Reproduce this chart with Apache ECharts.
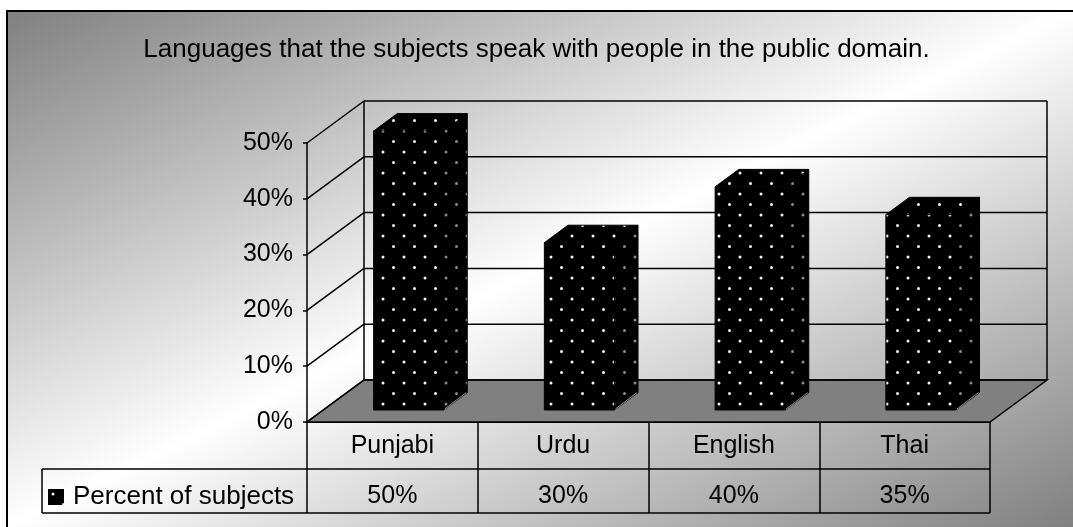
<!DOCTYPE html>
<html>
<head>
<meta charset="utf-8">
<script src="https://cdn.jsdelivr.net/npm/echarts@6/dist/echarts.min.js"></script>
<style>
html,body{margin:0;padding:0;background:#fff;}
#chart{width:1073px;height:527px;}
</style>
</head>
<body>
<div id="chart"></div>
<script>
// ---- data ----
const titleText = 'Languages that the subjects speak with people in the public domain.';
const categories = ['Punjabi', 'Urdu', 'English', 'Thai'];
const values = [0.50, 0.30, 0.40, 0.35];
const seriesName = 'Percent of subjects';
const yTicks = [0, 0.1, 0.2, 0.3, 0.4, 0.5];

// ---- style / layout constants ----
const FONT = '"Liberation Sans", Arial, sans-serif';
const DX = 57, DY = -42;          // depth of the 3D box
const F1 = 0.285, F2 = 0.70;      // bar depth span (fraction of box depth)
const BAR_RATIO = 0.41;

function makePattern(dot) {
  const c = document.createElement('canvas');
  c.width = 21; c.height = 21;
  const g = c.getContext('2d');
  g.fillStyle = '#000'; g.fillRect(0, 0, 21, 21);
  g.fillStyle = dot;
  g.beginPath(); g.arc(5, 5, 1.5, 0, Math.PI * 2); g.fill();
  g.beginPath(); g.arc(15.5, 15.5, 1.5, 0, Math.PI * 2); g.fill();
  return c;
}
const frontPat = { image: makePattern('#f4f4f4'), repeat: 'repeat' };
const sidePat = { image: makePattern('#8a8a8a'), repeat: 'repeat' };

const chart = echarts.init(document.getElementById('chart'), null, { renderer: 'canvas' });

const fmtPct = v => Math.round(v * 100) + '%';

const option = {
  animation: false,
  backgroundColor: '#fff',
  title: {
    text: titleText,
    left: 'center',
    top: 32,
    textStyle: { fontFamily: FONT, fontSize: 26, fontWeight: 'normal', color: '#000' }
  },
  graphic: [{
    type: 'rect',
    z: -10,
    silent: true,
    shape: { x: 7, y: 11, width: 1100, height: 600 },
    style: {
      fill: {
        type: 'linear', global: true, x: 338, y: -149, x2: 742, y2: 687,
        colorStops: [
          { offset: 0, color: '#808080' },
          { offset: 0.5, color: '#ffffff' },
          { offset: 1, color: '#808080' }
        ]
      },
      stroke: '#000', lineWidth: 2
    }
  }],
  legend: {
    data: [{ name: seriesName, icon: 'rect' }],
    left: 48, top: 484, padding: 0,
    itemWidth: 16, itemHeight: 16,
    selectedMode: false,
    textStyle: { fontFamily: FONT, fontSize: 26, color: '#000', lineHeight: 26, padding: [0, 0, 0, 4] }
  },
  grid: { left: 307, right: 83, top: 143, bottom: 105, containLabel: false },
  xAxis: {
    type: 'category',
    data: categories,
    axisLine: { show: true, lineStyle: { color: '#000', width: 2 } },
    axisTick: { show: true, length: 91, lineStyle: { color: '#000', width: 1.5 } },
    axisLabel: {
      margin: 24, verticalAlign: 'middle', lineHeight: 25,
      fontFamily: FONT, fontSize: 25, color: '#000'
    },
    splitLine: { show: false }
  },
  yAxis: {
    type: 'value',
    min: 0, max: 0.5, interval: 0.1,
    axisLine: { show: true, lineStyle: { color: '#000', width: 1.5 } },
    axisTick: { show: true, length: 4, lineStyle: { color: '#000', width: 1.5 } },
    axisLabel: {
      margin: 14, formatter: fmtPct,
      fontFamily: FONT, fontSize: 25, color: '#000'
    },
    splitLine: { show: false }
  },
  series: [
    // floor + back-wall edges
    {
      type: 'custom', z: 1, silent: true,
      data: [[0, 0]],
      encode: { x: 0, y: 1 },
      renderItem: function (params, api) {
        const cs = params.coordSys;
        const x0 = cs.x, x1 = cs.x + cs.width;
        const y0 = api.coord([0, 0])[1];
        const yTop = api.coord([0, yTicks[yTicks.length - 1]])[1];
        return {
          type: 'group',
          children: [
            { type: 'polygon', shape: { points: [[x0, y0], [x1, y0], [x1 + DX, y0 + DY], [x0 + DX, y0 + DY]] },
              style: { fill: '#808080', stroke: '#000', lineWidth: 1.5 } },
            { type: 'line', shape: { x1: x0 + DX, y1: yTop + DY, x2: x0 + DX, y2: y0 + DY },
              style: { stroke: '#000', lineWidth: 1.5 } },
            { type: 'line', shape: { x1: x1 + DX, y1: yTop + DY, x2: x1 + DX, y2: y0 + DY },
              style: { stroke: '#000', lineWidth: 1.5 } }
          ]
        };
      }
    },
    // gridlines on side wall + back wall
    {
      type: 'custom', z: 2, silent: true,
      data: yTicks.map(v => [0, v]),
      encode: { x: 0, y: 1 },
      renderItem: function (params, api) {
        const cs = params.coordSys;
        const x0 = cs.x, x1 = cs.x + cs.width;
        const y = api.coord([0, api.value(1)])[1];
        return {
          type: 'group',
          children: [
            { type: 'line', shape: { x1: x0, y1: y, x2: x0 + DX, y2: y + DY },
              style: { stroke: '#000', lineWidth: 1.5 } },
            { type: 'line', shape: { x1: x0 + DX, y1: y + DY, x2: x1 + DX, y2: y + DY },
              style: { stroke: '#000', lineWidth: 1.5 } }
          ]
        };
      }
    },
    // 3D bars
    {
      type: 'custom', z: 5, name: seriesName,
      itemStyle: { color: frontPat },
      data: values.map((v, i) => [i, v]),
      encode: { x: 0, y: 1 },
      renderItem: function (params, api) {
        const i = api.value(0), v = api.value(1);
        const c0 = api.coord([i, 0]), c1 = api.coord([i, v]);
        const bw = api.size([1, 0])[0] * BAR_RATIO;
        const ox = F1 * DX, oy = F1 * DY;
        const ddx = (F2 - F1) * DX, ddy = (F2 - F1) * DY;
        const xl = c0[0] - bw / 2 + ox, xr = c0[0] + bw / 2 + ox;
        const yb = c0[1] + oy, yt = c1[1] + oy;
        const st = { stroke: '#000', lineWidth: 1 };
        return {
          type: 'group',
          children: [
            { type: 'polygon', shape: { points: [[xr, yt], [xr + ddx, yt + ddy], [xr + ddx, yb + ddy], [xr, yb]] },
              style: Object.assign({ fill: sidePat }, st) },
            { type: 'line', shape: { x1: xr + 1, y1: yb - 1, x2: xr + ddx - 1, y2: yb + ddy },
              style: { stroke: '#9a9a9a', lineWidth: 1 } },
            { type: 'polygon', shape: { points: [[xl, yt], [xl + ddx, yt + ddy], [xr + ddx, yt + ddy], [xr, yt]] },
              style: Object.assign({ fill: frontPat }, st) },
            { type: 'rect', shape: { x: xl, y: yt, width: xr - xl, height: yb - yt },
              style: Object.assign({ fill: frontPat }, st) }
          ]
        };
      }
    },
    // data table (value row)
    {
      type: 'custom', z: 3, silent: true,
      data: values.map((v, i) => [i, v]),
      encode: { x: 0, y: 1 },
      renderItem: function (params, api) {
        const cs = params.coordSys;
        const i = api.value(0), v = api.value(1);
        const x = api.coord([i, 0])[0];
        const yAxisBottom = cs.y + cs.height;
        const children = [
          { type: 'text', style: { text: fmtPct(v), x: x, y: yAxisBottom + 74,
              align: 'center', verticalAlign: 'middle', font: '25px ' + FONT, fill: '#000' } }
        ];
        if (i === 0) {
          const xr = cs.x + cs.width, xl = 42;
          const yr1 = yAxisBottom + 47, yr2 = yAxisBottom + 91;
          children.push(
            { type: 'line', shape: { x1: xl, y1: yr1, x2: xr, y2: yr1 }, style: { stroke: '#000', lineWidth: 1.5 } },
            { type: 'line', shape: { x1: xl, y1: yr2, x2: xr, y2: yr2 }, style: { stroke: '#000', lineWidth: 1.5 } },
            { type: 'line', shape: { x1: xl, y1: yr1, x2: xl, y2: yr2 }, style: { stroke: '#000', lineWidth: 1.5 } }
          );
        }
        return { type: 'group', children: children };
      }
    }
  ]
};
chart.setOption(option);
</script>
</body>
</html>
